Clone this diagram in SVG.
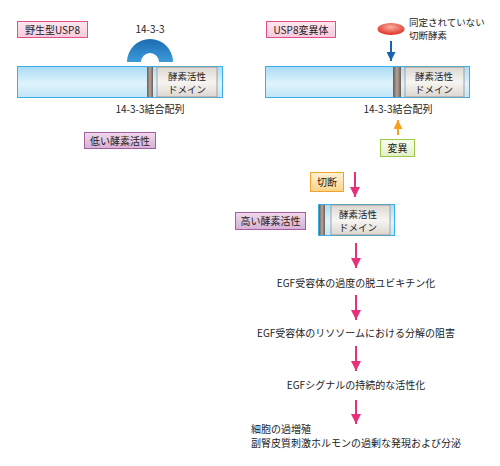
<svg xmlns="http://www.w3.org/2000/svg" width="500" height="466" viewBox="0 0 500 466">
<defs>
<linearGradient id="gBar" x1="0" y1="0" x2="0" y2="1">
<stop offset="0" stop-color="#a9dcf5"/><stop offset="0.55" stop-color="#dff3fc"/><stop offset="1" stop-color="#bfe6f8"/>
</linearGradient>
<linearGradient id="gDom" x1="0" y1="0" x2="0" y2="1">
<stop offset="0" stop-color="#dcd6cf"/><stop offset="0.5" stop-color="#f7f5f2"/><stop offset="1" stop-color="#dcd6cf"/>
</linearGradient>
<linearGradient id="gStripe" x1="0" y1="0" x2="1" y2="0">
<stop offset="0" stop-color="#6e5a50"/><stop offset="0.5" stop-color="#b3a59c"/><stop offset="1" stop-color="#6e5a50"/>
</linearGradient>
<linearGradient id="gArc" x1="0" y1="0" x2="0" y2="1">
<stop offset="0" stop-color="#1b6cb3"/><stop offset="1" stop-color="#3d9ad8"/>
</linearGradient>
<radialGradient id="gEl" cx="0.5" cy="0.35" r="0.6">
<stop offset="0" stop-color="#f9b2a0"/><stop offset="1" stop-color="#e0352c"/>
</radialGradient>
<linearGradient id="gOr" x1="0" y1="0" x2="0" y2="1">
<stop offset="0" stop-color="#fff2d6"/><stop offset="1" stop-color="#fcd488"/>
</linearGradient>
<linearGradient id="gPk" x1="0" y1="0" x2="0" y2="1">
<stop offset="0" stop-color="#fde8f0"/><stop offset="1" stop-color="#f9c9dc"/>
</linearGradient>
<linearGradient id="gPu" x1="0" y1="0" x2="0" y2="1">
<stop offset="0" stop-color="#efd9ec"/><stop offset="1" stop-color="#d8b0d4"/>
</linearGradient>
<linearGradient id="gGr" x1="0" y1="0" x2="0" y2="1">
<stop offset="0" stop-color="#f8fcef"/><stop offset="1" stop-color="#e3f0c4"/>
</linearGradient>
<marker id="mPink" viewBox="0 0 10 10" refX="10" refY="5" markerWidth="11" markerHeight="10" markerUnits="userSpaceOnUse" orient="auto">
<path d="M0,0 L10,5 L0,10 Z" fill="#e6317a"/>
</marker>
<marker id="mBlue" viewBox="0 0 10 10" refX="10" refY="5" markerWidth="10" markerHeight="9" markerUnits="userSpaceOnUse" orient="auto">
<path d="M0,0 L10,5 L0,10 Z" fill="#1565b0"/>
</marker>
<marker id="mOr" viewBox="0 0 10 10" refX="10" refY="5" markerWidth="10" markerHeight="9" markerUnits="userSpaceOnUse" orient="auto">
<path d="M0,0 L10,5 L0,10 Z" fill="#f5a01e"/>
</marker>
</defs>
<style>
text{font-family:"Noto Sans CJK JP","Noto Sans",sans-serif;font-size:10px;fill:#222;}
.c{text-anchor:middle;}
.s{font-size:9.5px;}
.bar{fill:url(#gBar);stroke:#3aaee6;stroke-width:1;}
.dom{fill:url(#gDom);stroke:#9a8f88;stroke-width:0.8;}
.stripe{fill:url(#gStripe);}
.pk{fill:url(#gPk);stroke:#e2508c;stroke-width:1;}
.pu{fill:url(#gPu);stroke:#a45ea2;stroke-width:1;}
.gr{fill:url(#gGr);stroke:#9cc84a;stroke-width:1;}
.or{fill:url(#gOr);stroke:#f0a530;stroke-width:1;}
.ap{stroke:#e6317a;stroke-width:2;fill:none;}
</style>

<g id="wt-label"><rect class="pk" x="17.5" y="21.5" width="70" height="16"/><text class="c" x="52.5" y="33.5">野生型USP8</text></g>
<g id="wt-1433"><path d="M127,62 A23,23 0 0 1 173,62 L159,62 A9,9 0 0 0 141,62 Z" fill="url(#gArc)"/><text class="c" x="150" y="33">14-3-3</text></g>
<g id="wt-bar">
<rect class="bar" x="17.5" y="66.5" width="205" height="31"/>
<rect class="stripe" x="147" y="67" width="6" height="30"/>
<rect class="dom" x="157" y="67" width="60" height="30"/>
<text class="c s" x="187" y="80">酵素活性</text><text class="c s" x="187" y="92.5">ドメイン</text>
<text class="c" x="150" y="113">14-3-3結合配列</text>
</g>
<g id="wt-low"><rect class="pu" x="84.5" y="132.5" width="71" height="16"/><text class="c" x="120" y="145">低い酵素活性</text></g>

<g id="mut-label"><rect class="pk" x="266.5" y="21.5" width="69" height="16"/><text class="c" x="301" y="33.5">USP8変異体</text></g>
<g id="enzyme"><ellipse cx="391" cy="29" rx="13.5" ry="6" fill="url(#gEl)"/><text class="s" x="409" y="26">同定されていない</text><text class="s" x="409" y="38.5">切断酵素</text></g>
<g id="mut-bar">
<rect class="bar" x="265.5" y="66.5" width="204" height="31"/>
<rect class="stripe" x="393" y="67" width="8" height="30"/>
<rect class="dom" x="405" y="67" width="59" height="30"/>
<text class="c s" x="434" y="80">酵素活性</text><text class="c s" x="434" y="92.5">ドメイン</text>
<text class="c" x="398" y="113">14-3-3結合配列</text>
</g>
<g id="mutation"><rect class="gr" x="380.5" y="139.5" width="34" height="17"/><text class="c" x="397.5" y="152">変異</text></g>
<g id="cleave"><rect class="or" x="310.5" y="172.5" width="33" height="19"/><text class="c" x="327" y="186">切断</text></g>
<g id="small-bar">
<rect class="bar" x="318.5" y="204.5" width="76" height="31"/>
<rect class="stripe" x="319" y="205" width="6" height="30"/>
<rect class="dom" x="331" y="205" width="59" height="30"/>
<text class="c s" x="358" y="218">酵素活性</text><text class="c s" x="358" y="230.5">ドメイン</text>
</g>
<g id="high"><rect class="pu" x="235.5" y="212.5" width="70" height="17"/><text class="c" x="270.5" y="225">高い酵素活性</text></g>
<g id="step1"><text class="c" x="356" y="287">EGF受容体の過度の脱ユビキチン化</text></g>
<g id="step2"><text class="c" x="356" y="337">EGF受容体のリソソームにおける分解の阻害</text></g>
<g id="step3"><text class="c" x="356" y="389">EGFシグナルの持続的な活性化</text></g>
<g id="step4"><text x="251" y="433">細胞の過増殖</text><text x="251" y="447">副腎皮質刺激ホルモンの過剰な発現および分泌</text></g>

<g id="connectors">
<line x1="391" y1="41" x2="391" y2="61" stroke="#1565b0" stroke-width="2" marker-end="url(#mBlue)"/>
<line x1="398" y1="135" x2="398" y2="120" stroke="#f5a01e" stroke-width="2" marker-end="url(#mOr)"/>
<line class="ap" x1="355" y1="172" x2="355" y2="197" marker-end="url(#mPink)"/>
<line class="ap" x1="356" y1="243" x2="356" y2="268" marker-end="url(#mPink)"/>
<line class="ap" x1="356" y1="295" x2="356" y2="320" marker-end="url(#mPink)"/>
<line class="ap" x1="356" y1="346" x2="356" y2="371" marker-end="url(#mPink)"/>
<line class="ap" x1="356" y1="400" x2="356" y2="424" marker-end="url(#mPink)"/>
</g>
</svg>
